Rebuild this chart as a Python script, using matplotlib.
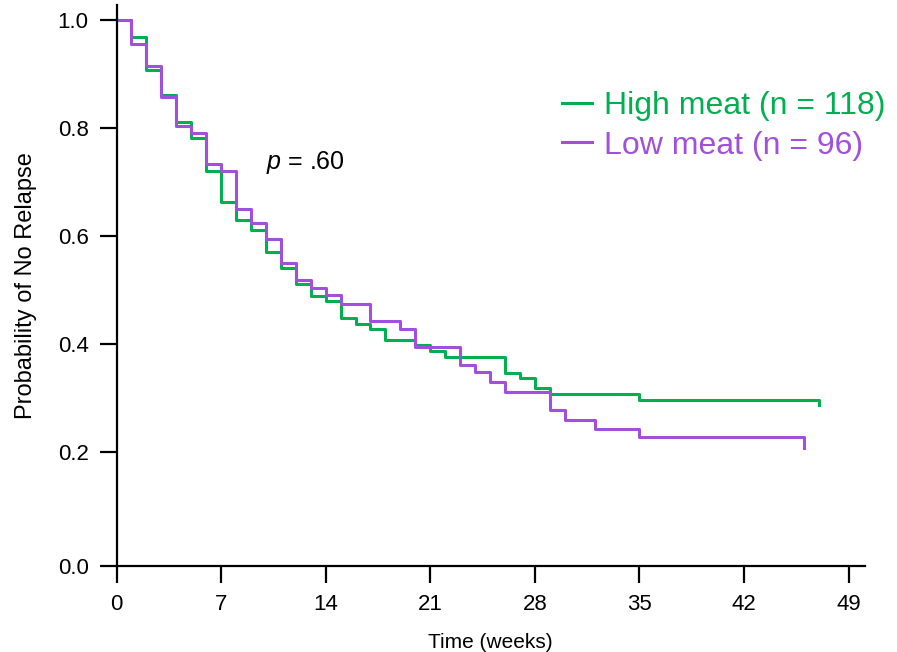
import matplotlib
matplotlib.use("Agg")
import matplotlib.pyplot as plt

plt.rcParams['font.family'] = ['Liberation Sans', 'DejaVu Sans']
plt.rcParams['mathtext.fontset'] = 'custom'
plt.rcParams['mathtext.it'] = 'Liberation Sans:italic'
plt.rcParams['mathtext.rm'] = 'Liberation Sans'

# Kaplan-Meier steps (weeks, survival)
high_t = [0, 1, 2, 3, 4, 5, 6, 7, 8, 9, 10, 11, 12, 13, 14, 15, 16, 17, 18,
          20, 21, 22, 26, 27, 28, 29, 35, 47]
high_s = [1.0, 0.969, 0.907, 0.861, 0.812, 0.781, 0.721, 0.663, 0.630, 0.611,
          0.571, 0.540, 0.511, 0.489, 0.480, 0.449, 0.438, 0.428, 0.407,
          0.398, 0.388, 0.376, 0.347, 0.337, 0.318, 0.307, 0.296, 0.287]

low_t = [0, 1, 2, 3, 4, 5, 6, 7, 8, 9, 10, 11, 12, 13, 14, 15, 17, 19, 20,
         23, 24, 25, 26, 29, 30, 32, 35, 46]
low_s = [1.0, 0.956, 0.915, 0.857, 0.804, 0.791, 0.733, 0.721, 0.651, 0.624,
         0.594, 0.551, 0.519, 0.503, 0.490, 0.474, 0.443, 0.428, 0.395,
         0.362, 0.348, 0.330, 0.311, 0.278, 0.259, 0.243, 0.227, 0.207]

high_label = "High meat (n = 118)"
low_label = "Low meat (n = 96)"
p_text = r"$p$ = .60"

green = "#00B050"
purple = "#A050DC"

xticks = [0, 7, 14, 21, 28, 35, 42, 49]
y_bottom = -0.011
yticks = [y_bottom, 0.2, 0.4, 0.6, 0.8, 1.0]
ytick_labels = ["0.0", "0.2", "0.4", "0.6", "0.8", "1.0"]

fig = plt.figure(figsize=(8.97, 6.52), dpi=100)
ax = fig.add_axes([0.1299, 0.1319, 0.8344, 0.8597])

ax.step(high_t, high_s, where='post', color=green, lw=2.2, label=high_label)
ax.step(low_t, low_s, where='post', color=purple, lw=2.2, label=low_label)

ax.set_xlim(0, 50.1)
ax.set_ylim(y_bottom, 1.027)
ax.set_xticks(xticks)
ax.set_yticks(yticks)
ax.set_yticklabels(ytick_labels)

for side in ['top', 'right']:
    ax.spines[side].set_visible(False)
for side in ['left', 'bottom']:
    ax.spines[side].set_linewidth(1.6)
ax.tick_params(length=12, width=1.6, labelsize=16, pad=8)

ax.set_xlabel("Time (weeks)", fontsize=15, labelpad=13)
ax.set_ylabel("Probability of No Relapse", fontsize=17, labelpad=15)

ax.text(10.0, 0.725, p_text, fontsize=18)

leg = fig.legend(loc='upper left', bbox_to_anchor=(562 / 897, 1 - 91 / 652),
                 frameon=False, fontsize=23, handlelength=0.95,
                 handletextpad=0.35, labelspacing=0.3, borderpad=0,
                 borderaxespad=0, labelcolor='linecolor')

plt.savefig('out.png', dpi=100)
